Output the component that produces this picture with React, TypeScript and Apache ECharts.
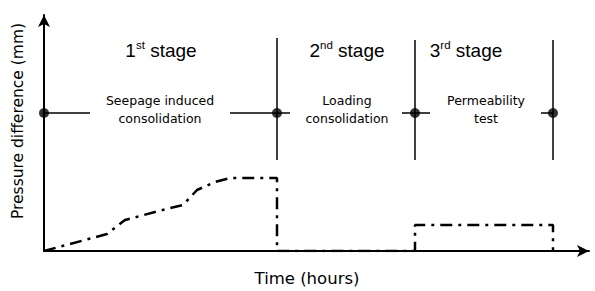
import React, { useEffect, useRef } from "react";
import * as echarts from "echarts";

// Time axis (arbitrary hours) and pressure difference (arbitrary mm)
const curveTime = [0, 63, 81, 126, 139, 153, 171, 186, 233, 233, 371, 371, 509, 509];
const curvePressure = [0, 17, 31, 43, 46, 61, 69, 73, 73, 0, 0, 26, 26, 0];

const stageBoundaries = [233, 371, 509];
const stageLineTop = [213, 211, 211];
const stageLineBottom = 91;
const markerLevel = 138;
const markerTimes = [0, 233, 371, 509];
const markerSegments: [number, number][] = [
  [0, 46],
  [186, 246],
  [358, 386],
  [497, 509],
];

const stageTitles = [
  ["1", "st"],
  ["2", "nd"],
  ["3", "rd"],
];
const stageDescriptions = [
  ["Seepage induced", "consolidation"],
  ["Loading", "consolidation"],
  ["Permeability", "test"],
];

const X_MAX = 545;
const Y_MAX = 236;

export default function App() {
  const ref = useRef<HTMLDivElement>(null);
  useEffect(() => {
    if (!ref.current) return;
    const chart = echarts.init(ref.current, undefined, { renderer: "svg" });
    const black = "#000";
    const series: any[] = [];
    series.push({
      type: "line",
      data: curveTime.map((t, i) => [t, curvePressure[i]]),
      symbol: "none",
      lineStyle: { color: black, width: 2.5, type: [12, 6, 3, 6] },
      z: 5,
    });
    stageBoundaries.forEach((t, i) => {
      series.push({
        type: "line",
        data: [
          [t, stageLineTop[i]],
          [t, stageLineBottom],
        ],
        symbol: "none",
        lineStyle: { color: black, width: 1.5 },
      });
    });
    markerSegments.forEach(([a, b]) => {
      series.push({
        type: "line",
        data: [
          [a, markerLevel],
          [b, markerLevel],
        ],
        symbol: "none",
        lineStyle: { color: black, width: 1.5 },
      });
    });
    series.push({
      type: "scatter",
      data: markerTimes.map((t) => [t, markerLevel]),
      symbol: "circle",
      symbolSize: 10,
      itemStyle: { color: black },
      z: 6,
    });

    const stageCentersX = [161, 347, 466];
    const descCentersX = [160, 347, 486];
    const graphic: any[] = [];
    stageTitles.forEach(([n, s], i) => {
      graphic.push({
        type: "text",
        x: stageCentersX[i],
        y: 50,
        style: {
          text: `{n|${n}}{s|${s}}{n| stage}`,
          align: "center",
          verticalAlign: "middle",
          fill: black,
          rich: {
            n: { fontSize: 19, fontFamily: "Liberation Sans", fill: black, lineHeight: 22 },
            s: {
              fontSize: 11.5,
              fontFamily: "Liberation Sans",
              fill: black,
              verticalAlign: "top",
              lineHeight: 22,
              padding: [0, 0, 9, 0],
            },
          },
        },
      });
    });
    stageDescriptions.forEach((lines, i) => {
      lines.forEach((line, j) => {
        graphic.push({
          type: "text",
          x: descCentersX[i],
          y: 100 + j * 18,
          style: {
            text: line,
            align: "center",
            verticalAlign: "middle",
            fontSize: 12.5,
            fontFamily: "DejaVu Sans",
            fill: black,
          },
        });
      });
    });
    graphic.push({
      type: "text",
      x: 18,
      y: 121,
      rotation: Math.PI / 2,
      style: {
        text: "Pressure difference (mm)",
        align: "center",
        verticalAlign: "middle",
        fontSize: 15.5,
        fontFamily: "DejaVu Sans",
        fill: black,
      },
    });
    graphic.push({
      type: "text",
      x: 307,
      y: 278,
      style: {
        text: "Time (hours)",
        align: "center",
        verticalAlign: "middle",
        fontSize: 16.5,
        fontFamily: "DejaVu Sans",
        fill: black,
      },
    });

    chart.setOption({
      animation: false,
      grid: { left: 44, top: 15, width: X_MAX, height: Y_MAX, containLabel: false },
      xAxis: {
        type: "value",
        min: 0,
        max: X_MAX,
        axisLine: {
          show: true,
          symbol: ["none", "arrow"],
          symbolSize: [9, 12],
          lineStyle: { color: black, width: 2 },
        },
        axisTick: { show: false },
        axisLabel: { show: false },
        splitLine: { show: false },
      },
      yAxis: {
        type: "value",
        min: 0,
        max: Y_MAX,
        axisLine: {
          show: true,
          symbol: ["none", "arrow"],
          symbolSize: [9, 12],
          lineStyle: { color: black, width: 2 },
        },
        axisTick: { show: false },
        axisLabel: { show: false },
        splitLine: { show: false },
      },
      series,
      graphic,
    });
    return () => chart.dispose();
  }, []);
  return <div ref={ref} style={{ width: 595, height: 291, position: "absolute", left: 0, top: 0 }} />;
}
